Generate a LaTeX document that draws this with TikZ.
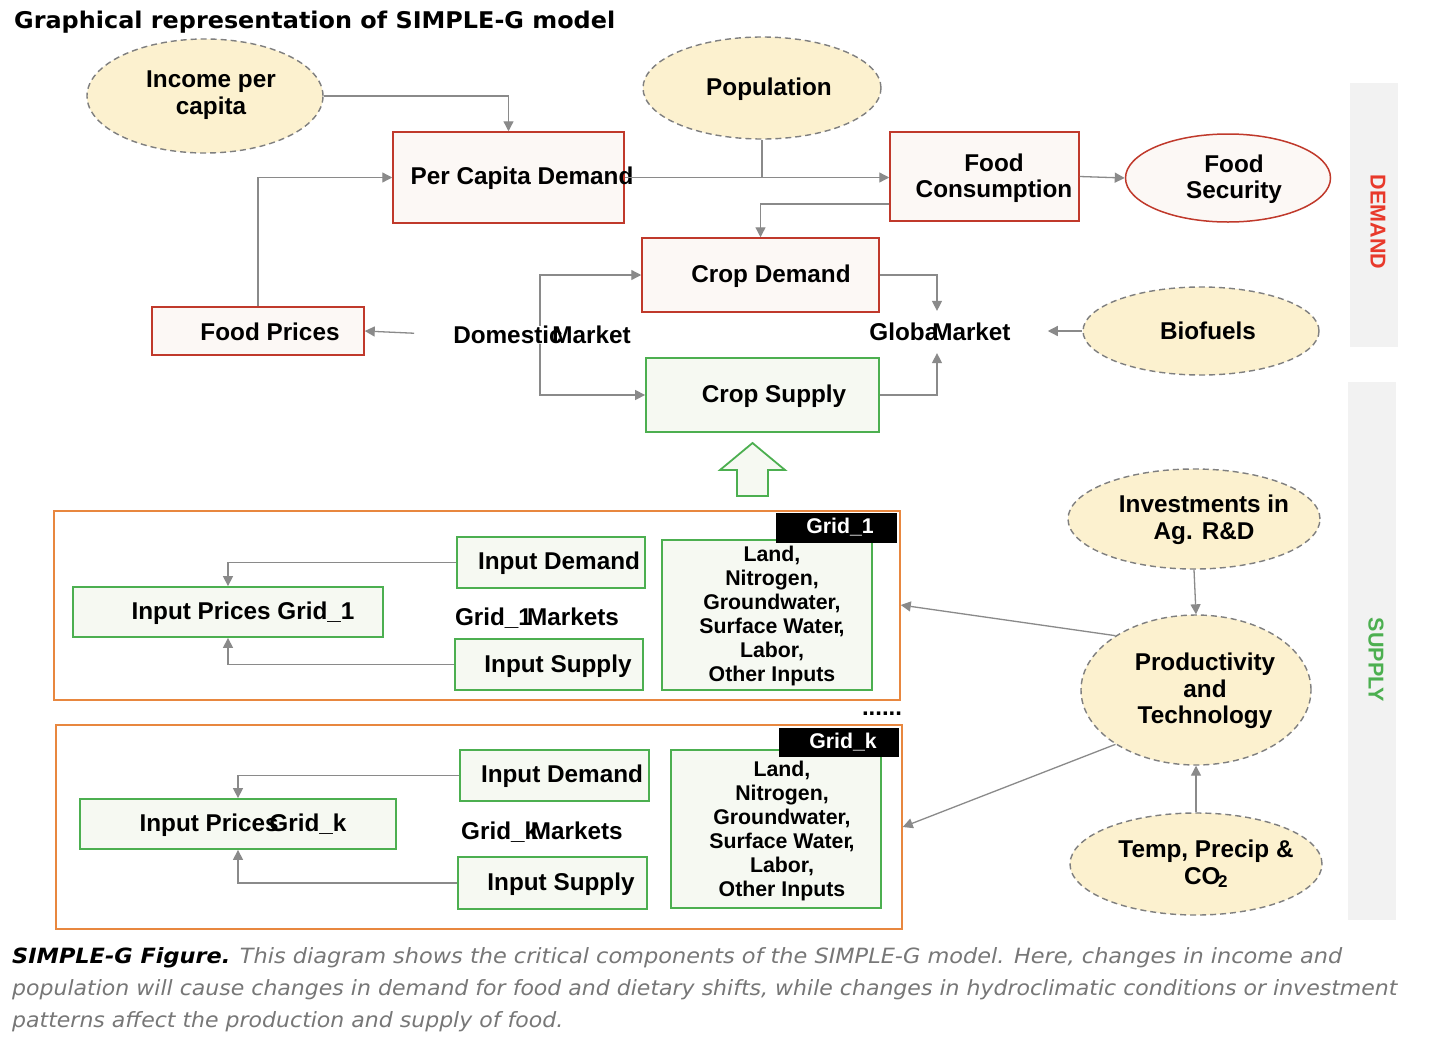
\documentclass[tikz,border=0pt]{standalone}
\usepackage{fontspec}
\usepackage{graphicx}
\setmainfont{Liberation Sans}
\newfontfamily\verd{DejaVu Sans}
\usetikzlibrary{arrows.meta,shapes.geometric}
\definecolor{cream}{HTML}{FCF1CF}
\definecolor{dashgray}{HTML}{7F7F7F}
\definecolor{boxred}{HTML}{C0392B}
\definecolor{pinkfill}{HTML}{FCF8F5}
\definecolor{boxgreen}{HTML}{4CAF50}
\definecolor{greenfill}{HTML}{F6F9F2}
\definecolor{orangeb}{HTML}{E8873F}
\definecolor{arrgray}{HTML}{8A8A8A}
\definecolor{barfill}{HTML}{F2F2F2}
\definecolor{demred}{HTML}{E8392B}
\definecolor{supgreen}{HTML}{4CAF50}
\definecolor{capgray}{HTML}{777777}
\tikzset{
  lbl/.style={font=\fontsize{24.3}{26.5}\selectfont\bfseries, inner sep=0pt, align=center, yshift=-2pt},
  small/.style={font=\fontsize{21.3}{24}\selectfont\bfseries, inner sep=0pt, align=center, yshift=-2pt},
  ell/.style={ellipse, draw=dashgray, dash pattern=on 6pt off 4pt, fill=cream, line width=1.4pt, inner sep=0pt},
  redbox/.style={rectangle, draw=boxred, fill=pinkfill, line width=1.5pt, inner sep=0pt},
  greenbox/.style={rectangle, draw=boxgreen, fill=greenfill, line width=1.8pt, inner sep=0pt},
  gridbox/.style={rectangle, draw=orangeb, line width=1.5pt, inner sep=0pt},
  tag/.style={rectangle, fill=black, text=white, font=\fontsize{21.3}{24}\selectfont\bfseries, inner sep=0pt},
  conn/.style={draw=arrgray, line width=1.3pt, -{Triangle[length=10pt,width=10pt]}},
  plain/.style={draw=arrgray, line width=1.3pt},
}
\begin{document}
\begin{tikzpicture}[x=1pt,y=-1pt]
\useasboundingbox[fill=white] (0,0) rectangle (1442,1058);

% title
\node[anchor=base west, inner sep=0pt, font=\verd\bfseries\fontsize{23}{26}\selectfont] (title) at (14,28) {\resizebox{601pt}{\height}{Graphical representation of SIMPLE-G model}};

% side bars
\node[rectangle, fill=barfill, minimum width=48pt, minimum height=264pt, inner sep=0pt] (dbar) at (1374,215) {};
\node[rotate=-90, text=demred, font=\fontsize{21.5}{24}\selectfont\bfseries, inner sep=0pt] (dtxt) at (1378,222) {DEMAND};
\node[rectangle, fill=barfill, minimum width=48pt, minimum height=538pt, inner sep=0pt] (sbar) at (1372,651) {};
\node[rotate=-90, text=supgreen, font=\fontsize{21.5}{24}\selectfont\bfseries, inner sep=0pt] (stxt) at (1376,660) {SUPPLY};

% ellipses
\node[ell, minimum width=236pt, minimum height=114pt] (inc) at (205,96) {};
\node[lbl] at (211,93) {Income per\\capita};
\node[ell, minimum width=238pt, minimum height=102pt] (pop) at (762,88) {};
\node[lbl] at (769,87) {Population};
\node[ellipse, draw=boxred, fill=pinkfill, line width=1.5pt, inner sep=0pt, minimum width=205pt, minimum height=88pt] (fs) at (1228,178) {};
\node[lbl] at (1234,177) {Food\\Security};
\node[ell, minimum width=236pt, minimum height=88pt] (bio) at (1201,331) {};
\node[lbl] at (1208,329) {Biofuels};
\node[ell, minimum width=252pt, minimum height=100pt] (inv) at (1194,519) {};
\node[lbl] at (1204,518) {Investments in\\Ag. R\&D};
\node[ell, minimum width=230pt, minimum height=150pt] (prod) at (1196,690) {};
\node[lbl] at (1205,689) {Productivity\\and\\Technology};
\node[ell, minimum width=252pt, minimum height=102pt] (temp) at (1196,864) {};
\node[lbl] at (1206,862) {Temp, Precip \&\\CO\kern-0.1em\textsubscript{2}};

% demand boxes
\node[redbox, minimum width=231pt, minimum height=91pt] (pcd) at (508.5,177.5) {};
\node[lbl] at (522,176) {Per Capita Demand};
\node[redbox, minimum width=189pt, minimum height=89pt] (fc) at (984.5,176.5) {};
\node[lbl] at (994,176) {Food\\Consumption};
\node[redbox, minimum width=237pt, minimum height=74pt] (cd) at (760.5,275) {};
\node[lbl] at (771,274) {Crop Demand};
\node[redbox, minimum width=212pt, minimum height=48pt] (fp) at (258,331) {};
\node[lbl] at (270,330) {Food Prices};
\node[greenbox, minimum width=233pt, minimum height=74pt] (cs) at (762.5,395) {};
\node[lbl] at (774,394) {Crop Supply};

% market labels
\node[lbl] (dm) at (542,333) {Domestic\kern-0.42em Market};
\node[lbl, inner ysep=12pt] (gm) at (940,330) {Globa\kern-0.25em Market};

% hollow supply arrow
\draw[draw=boxgreen, fill=greenfill, line width=1.8pt, line join=miter]
  (737,496) -- (737,470) -- (720,470) -- (752.5,443) -- (785,470) -- (768,470) -- (768,496) -- cycle;

% demand connectors
\draw[conn] (inc.east) -| (pcd.north);
\draw[conn] (fp.north) |- (pcd.west);
\draw[conn] (pcd.east) -- (pcd.east -| fc.west);
\draw[plain] (pop.south) -- (pop.south |- pcd.east);
\draw[conn] (fc.west |- 0,204) -| (cd.north);
\draw[conn] (fc.east) -- (fs.west);
\draw[conn] (dm.north -| 540,0) |- (cd.west);
\draw[conn] (dm.south -| 540,0) |- (cs.west);
\draw[conn, shorten <=39pt] (dm.west) -- (fp.east);
\draw[conn] (cd.east) -| ([xshift=-3pt]gm.north);
\draw[conn] (cs.east) -| ([xshift=-3pt]gm.south);
\draw[conn, shorten >=37pt] (bio.west) -- (gm.east |- bio.west);

% grid 1
\node[gridbox, minimum width=846pt, minimum height=189pt] (g1) at (477,605.5) {};
\node[greenbox, minimum width=188pt, minimum height=51pt] (idm1) at (551,562.5) {};
\node[lbl] at (559,561) {Input Demand};
\node[greenbox, minimum width=310pt, minimum height=50pt] (ip1) at (228,612) {};
\node[lbl] at (243,611) {Input Prices Grid\_1};
\node[greenbox, minimum width=188pt, minimum height=51pt] (is1) at (549,664.5) {};
\node[lbl] at (558,664) {Input Supply};
\node[lbl] (m1) at (537,616) {Grid\_1\kern-0.2em Markets};
\node[greenbox, minimum width=210pt, minimum height=150pt] (land1) at (767,615) {};
\node[small] at (772,614) {Land,\\Nitrogen,\\Groundwater,\\Surface Water\kern-0.15em,\\Labor,\\Other Inputs};
\node[tag, minimum width=121pt, minimum height=30pt] (t1) at (836.5,528) {};
\node[tag] at (840,527) {Grid\_1};
\draw[conn] (idm1.west) -| (ip1.north);
\draw[conn] (is1.west) -| (ip1.south);

% dots
\node[inner sep=0pt, font=\fontsize{24}{26}\selectfont\bfseries] (dots) at (882,714) {......};

% grid k
\node[gridbox, minimum width=846pt, minimum height=204pt] (gk) at (479,827) {};
\node[greenbox, minimum width=189pt, minimum height=51pt] (idmk) at (554.5,775.5) {};
\node[lbl] at (562,774) {Input Demand};
\node[greenbox, minimum width=316pt, minimum height=50pt] (ipk) at (238,824) {};
\node[lbl] at (243,823) {Input Prices\kern-0.38em Grid\_k};
\node[greenbox, minimum width=189pt, minimum height=52pt] (isk) at (552.5,883) {};
\node[lbl] at (561,882) {Input Supply};
\node[lbl] (mk) at (542,830) {Grid\_k\kern-0.3em Markets};
\node[greenbox, minimum width=210pt, minimum height=158pt] (landk) at (776,829) {};
\node[small] at (782,829) {Land,\\Nitrogen,\\Groundwater,\\Surface Water\kern-0.15em,\\Labor,\\Other Inputs};
\node[tag, minimum width=120pt, minimum height=29pt] (tk) at (839,742.5) {};
\node[tag] at (843,742) {Grid\_k};
\draw[conn] (idmk.west) -| (ipk.north);
\draw[conn] (isk.west) -| (ipk.south);

% supply connectors
\draw[conn] (prod.146) -- (g1.east |- 0,605);
\draw[conn] (prod.214) -- (gk.east |- 0,827);
\draw[conn] (inv.south) -- (prod.north);
\draw[conn] (temp.north) -- (prod.south);

% caption
\node[anchor=base west, inner sep=0pt, font=\verd\fontsize{21}{24}\selectfont, text=capgray] (cap1) at (12,963)
  {\resizebox{1330pt}{\height}{\textcolor{black}{\bfseries\itshape SIMPLE-G Figure.} \itshape This diagram shows the critical components of the SIMPLE-G model. Here, changes in income and}};
\node[anchor=base west, inner sep=0pt, font=\verd\itshape\fontsize{21}{24}\selectfont, text=capgray] (cap2) at (12,995)
  {\resizebox{1385pt}{\height}{population will cause changes in demand for food and dietary shifts, while changes in hydroclimatic conditions or investment}};
\node[anchor=base west, inner sep=0pt, font=\verd\itshape\fontsize{21}{24}\selectfont, text=capgray] (cap3) at (12,1027)
  {\resizebox{551pt}{\height}{patterns affect the production and supply of food.}};
\end{tikzpicture}
\end{document}
